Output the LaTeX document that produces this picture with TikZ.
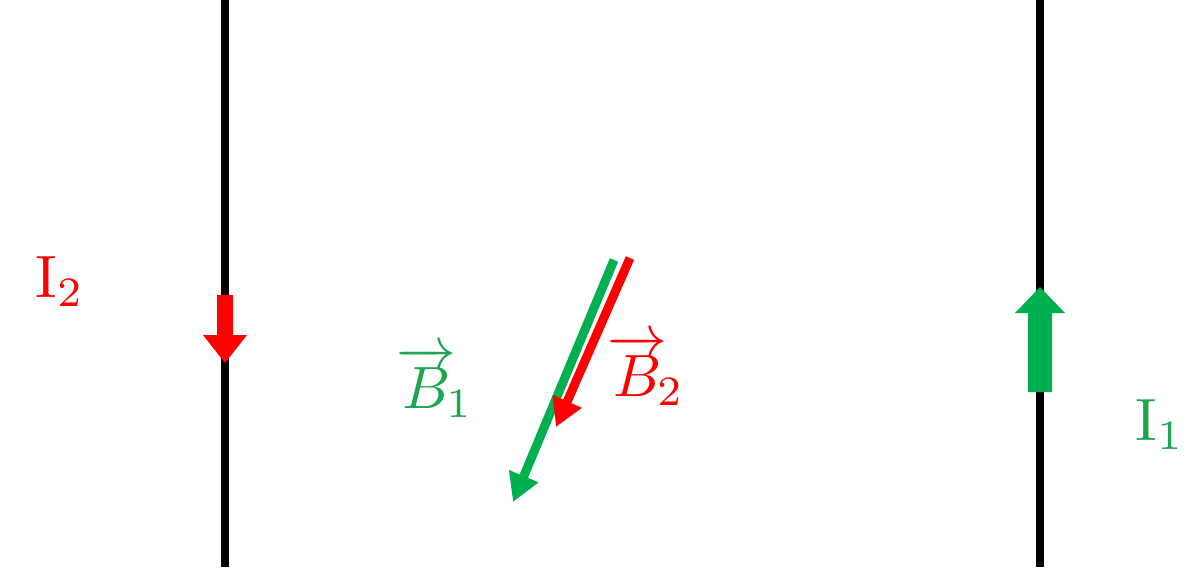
\documentclass[tikz,border=0pt]{standalone}
\usepackage{amsmath}
\usetikzlibrary{arrows.meta}
\definecolor{myred}{RGB}{255,0,0}
\definecolor{mygreen}{RGB}{0,176,80}
\definecolor{txtgreen}{RGB}{30,165,80}
\tikzset{
  wire/.style={line width=8*0.02cm, black},
  lbl/.style={scale=3.4, inner sep=0pt},
  bvec/.style={line width=9*0.02cm, -{Triangle[width=30*0.02cm, length=28*0.02cm]}},
}
\begin{document}
\begin{tikzpicture}[x=0.02cm,y=-0.02cm]
\useasboundingbox (0,0) rectangle (1200,585);
% wires
\coordinate (Lt) at (225,0); \coordinate (Lb) at (225,567);
\coordinate (Rt) at (1040,0); \coordinate (Rb) at (1040,567);
\draw[wire] (Lt) -- (Lb);
\draw[wire] (Rt) -- (Rb);
% current arrow I2 (down, red)
\fill[myred] (217,295) -- (233,295) -- (233,335) -- (247,335) -- (225,363) -- (203,335) -- (217,335) -- cycle;
% current arrow I1 (up, green)
\fill[mygreen] (1028,392) -- (1052,392) -- (1052,313) -- (1065,313) -- (1040,287) -- (1015,313) -- (1028,313) -- cycle;
% field vectors
\coordinate (B1s) at (614,260); \coordinate (B1e) at (513,502);
\coordinate (B2s) at (630,258); \coordinate (B2e) at (556,427);
\draw[bvec, mygreen] (B1s) -- (B1e);
\draw[bvec, myred] (B2s) -- (B2e);
% labels
\node[lbl, text=myred] (I2) at (60,282) {$\mathrm{I}_2$};
\node[lbl, text=txtgreen] (I1) at (1160,425) {$\mathrm{I}_1$};
\node[lbl, text=txtgreen] (B1) at (435,382) {$\overrightarrow{B}\!_1$};
\node[lbl, text=myred] (B2) at (646,370) {$\overrightarrow{B}\!_2$};
\end{tikzpicture}
\end{document}
